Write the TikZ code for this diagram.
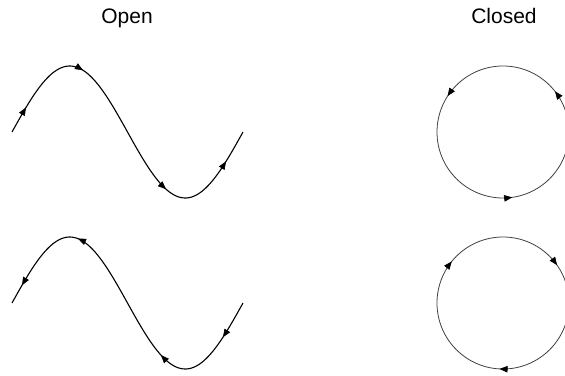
\documentclass[tikz,border=0pt]{standalone}
\usepackage{fontspec}
\setmainfont{Liberation Sans}
\usetikzlibrary{arrows.meta}
\tikzset{
  wave/.style={line width=1.1pt, black},
  ring/.style={line width=0.8pt, black!75},
  tipmark/.style={-{Triangle[length=8pt,width=6.5pt]}, line width=0.6pt, black},
  title/.style={font=\fontsize{21}{24}\selectfont, inner sep=0pt, anchor=base}
}
% wave height at screen x for centre line y0
\newcommand\wy[2]{{#2-66*sin(((#1)-12)/231*360)}}
% arrow on wave: x of tip, centre line, direction (+1 forward, -1 backward)
\newcommand\wavearrow[3]{%
  \draw[tipmark] ({#1-#3*1.5}, \wy{#1-#3*1.5}{#2}) -- (#1, \wy{#1}{#2});}
% arrow on circle: angle of tip, centre y, direction (+1 ccw, -1 cw)
\newcommand\ringarrow[3]{%
  \draw[tipmark] ({503+66*cos(#1-#3*1.5)}, {#2-66*sin(#1-#3*1.5)}) -- ({503+66*cos(#1)}, {#2-66*sin(#1)});}
\begin{document}
\begin{tikzpicture}[x=1pt, y=-1pt]
  \clip (0,0) rectangle (565,375);
  \fill[white] (0,0) rectangle (565,375);
  % titles
  \node[title] (open) at (127,23) {Open};
  \node[title] (closed) at (504,23) {Closed};
  % open, forward
  \draw[wave] plot[domain=12:243, samples=120, smooth] (\x, \wy{\x}{132});
  \wavearrow{26}{132}{1}
  \wavearrow{83}{132}{1}
  \wavearrow{166}{132}{1}
  \wavearrow{226}{132}{1}
  % open, backward
  \draw[wave] plot[domain=12:243, samples=120, smooth] (\x, \wy{\x}{303});
  \wavearrow{22}{303}{-1}
  \wavearrow{78}{303}{-1}
  \wavearrow{161}{303}{-1}
  \wavearrow{223}{303}{-1}
  % closed, counter-clockwise
  \draw[ring] (503,132) circle[radius=66];
  \ringarrow{147}{132}{1}
  \ringarrow{38}{132}{1}
  \ringarrow{278}{132}{1}
  % closed, clockwise
  \draw[ring] (503,303) circle[radius=66];
  \ringarrow{141}{303}{-1}
  \ringarrow{35}{303}{-1}
  \ringarrow{267}{303}{-1}
\end{tikzpicture}
\end{document}
